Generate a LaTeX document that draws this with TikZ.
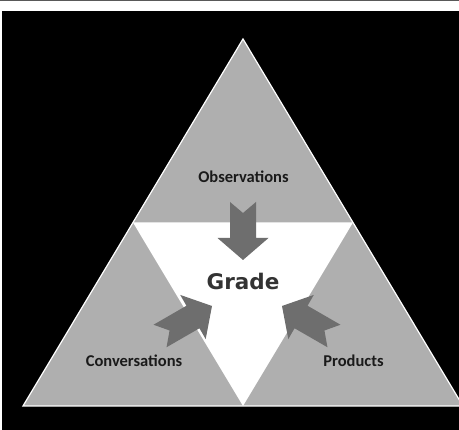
\documentclass[tikz,border=0pt]{standalone}
\usepackage{fontspec}
\setmainfont{Carlito}
\newfontfamily\gradefont{DejaVu Sans}
\definecolor{tri}{HTML}{AFAFAF}
\definecolor{arr}{HTML}{6E6E6E}
\definecolor{lbl}{HTML}{1A1A1A}
\definecolor{grd}{HTML}{333333}
\begin{document}
\begin{tikzpicture}[x=1pt,y=1pt,
  lab/.style={font=\bfseries\fontsize{16.5}{19}\selectfont, text=lbl, inner sep=0pt},
  gradelab/.style={font=\gradefont\bfseries\fontsize{21.5}{26}\selectfont, text=grd, inner sep=0pt},
  blockarrow/.style={fill=arr}]
\useasboundingbox (0,0) rectangle (459,430);
\fill[white] (0,0) rectangle (459,430);
\draw[black!65, line width=1pt] (0,429.5) -- (459,429.5);
\fill[black] (2,0) rectangle (459,419);
\begin{scope}
  \clip (2,0) rectangle (459,419);
  \filldraw[fill=tri, draw=white, line width=1.2pt] (243,391) -- (23,24) -- (463,24) -- cycle;
  \fill[white] (133,207.5) -- (353,207.5) -- (243,24) -- cycle;
\end{scope}
% block arrows (tip at origin, pointing along +x)
\begin{scope}[shift={(243,170)}, rotate=-90]
  \fill[blockarrow] (0,0) -- (-22,25.5) -- (-22,13) -- (-58,13) -- (-47,0) -- (-58,-13) -- (-22,-13) -- (-22,-25.5) -- cycle;
\end{scope}
\begin{scope}[shift={(212,124)}, rotate=30]
  \fill[blockarrow] (0,0) -- (-22,25.5) -- (-22,13) -- (-60,13) -- (-49,0) -- (-60,-13) -- (-22,-13) -- (-22,-25.5) -- cycle;
\end{scope}
\begin{scope}[shift={(282,124)}, rotate=150]
  \fill[blockarrow] (0,0) -- (-22,25.5) -- (-22,13) -- (-60,13) -- (-49,0) -- (-60,-13) -- (-22,-13) -- (-22,-25.5) -- cycle;
\end{scope}
\node[lab] (obs) at (243.5,253) {Observations};
\node[lab] (conv) at (134,69) {Conversations};
\node[lab] (prod) at (353.5,69) {Products};
\node[gradelab] (grade) at (243,149) {Grade};
\end{tikzpicture}
\end{document}
